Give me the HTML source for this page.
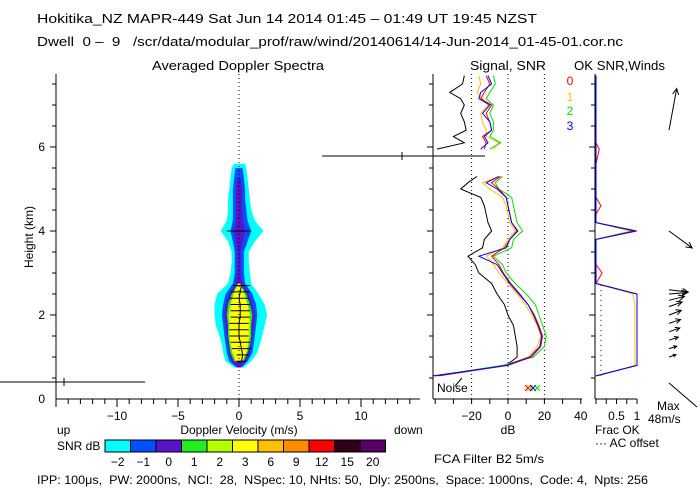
<!DOCTYPE html>
<html><head><meta charset="utf-8"><style>
body{margin:0;background:#fff;width:700px;height:500px;overflow:hidden}
svg{display:block;font-family:"Liberation Sans",sans-serif}
</style></head><body>
<svg id="c" width="700" height="500" viewBox="0 0 700 500">
<text x="37" y="23" font-size="13" textLength="500" lengthAdjust="spacingAndGlyphs">Hokitika_NZ  MAPR-449  Sat Jun 14 2014 01:45 – 01:49 UT 19:45 NZST</text>
<text x="37" y="46" font-size="12.5" xml:space="preserve" textLength="586" lengthAdjust="spacingAndGlyphs">Dwell  0 –  9   /scr/data/modular_prof/raw/wind/20140614/14-Jun-2014_01-45-01.cor.nc</text>
<text x="152" y="70" font-size="13" textLength="172" lengthAdjust="spacingAndGlyphs">Averaged Doppler Spectra</text>
<text x="470" y="70" font-size="13" textLength="76" lengthAdjust="spacingAndGlyphs">Signal, SNR</text>
<text x="574" y="70" font-size="13" textLength="91" lengthAdjust="spacingAndGlyphs">OK SNR,Winds</text>
<text x="33" y="237" font-size="12" text-anchor="middle" transform="rotate(-90 33 237)">Height (km)</text>
<text x="239" y="434" font-size="12" text-anchor="middle">Doppler Velocity (m/s)</text>
<text x="57" y="434" font-size="12">up</text>
<text x="394" y="434" font-size="12">down</text>
<text x="508" y="434" font-size="12" text-anchor="middle">dB</text>
<text x="595" y="434" font-size="12">Frac OK</text>
<text x="595" y="447" font-size="12">··· AC offset</text>
<text x="657" y="410" font-size="12">Max</text>
<text x="648" y="423" font-size="12">48m/s</text>
<text x="57" y="450" font-size="12">SNR dB</text>
<text x="434" y="463" font-size="12" textLength="110" lengthAdjust="spacingAndGlyphs">FCA Filter B2  5m/s</text>
<text x="37" y="484" font-size="11.5" xml:space="preserve" textLength="611" lengthAdjust="spacingAndGlyphs">IPP: 100μs,  PW: 2000ns,  NCI:  28,  NSpec: 10, NHts: 50,  Dly: 2500ns,  Space: 1000ns,  Code: 4,  Npts: 256</text>
<text x="437" y="392" font-size="12">Noise</text>
</svg>
<script>
// ---- data ----
const H = [0.55,0.8,1.0,1.25,1.5,1.75,2.0,2.25,2.5,2.75,3.0,3.2,3.4,3.6,3.8,4.0,4.2,4.4,4.6,4.8,5.0,5.15,5.3,5.6,5.95,6.1,6.25,6.4,6.6,6.8,7.0,7.15,7.3,7.5,7.7];
const sigBlack = [-42,-1,5,5,4,3,0,-2,-6,-9,-16,-18,-22,-14,-13,-9,-11,-12,-13,-15,-26,-22,-17,null,-39,-24,-30,-23,-24,-26,-24,-26,-32,-25,-24];
const snrRed = [-38,0,13,18,19,17,14.5,11,6.5,1.5,-2.5,-5,-9,-2,1,5.5,2,1,0,-1,-5,-9,-4,null,-13,-12,-14,-9,-10,-12,-9,-15,-13,-10,-12];
const snrOrange = [-39,-2,11,16,18,16,13,9.5,5,0,-5,-8,-12,-3,0,4,1,0,-1,-3,-10,-14,-5,null,-8,-5,-12,-12,-14,-15,-11,-14,-17,-15,-16];
const snrGreen = [-40,-3,14,20,21,19,17,15,10,4,-1,-3,-8,2,3,8,5,4,3,2,-5,-7,-3,null,-10,-4,-10,-8,-8,-10,-8,-12,-10,-7,-8];
const snrBlue = [-40,-1,12,17.5,18.5,16.5,14,11,6,1,-3,-6,-16,-1,1,5,2,1,0,-1,-6,-12,-5,null,-15,-11,-13,-9,-10,-14,-10,-16,-15,-9,-11];
const okRed = [0,1,1,1,1,1,1,1,1,0,0.15,0,0,0,0,1,0,0,0.12,0,0,0,0,0,0.08,0,0,0,0,0,0,0,0,0,0];
const okOrange = [0.05,0.95,0.95,0.95,0.95,0.95,0.95,0.95,0.9,0,0,0,0,0,0,0.85,0,0,0,0,0,0,0,0,0,0,0,0,0,0,0,0,0,0,0];
const okGreen = [0,1,1,1,1,1,1,1,1,0,0,0,0,0,0,0.9,0,0,0,0,0,0,0,0,0,0,0,0,0,0,0,0,0,0,0];
const okBlue = [0,1,1,1,1,1,1,1,1,0,0,0,0,0,0,0.95,0,0,0,0,0,0,0,0,0,0,0,0,0,0,0,0,0,0,0];
const windH = [1.0,1.2,1.4,1.6,1.8,2.0,2.2,2.35,2.5,2.6,4.0,6.4];
const windU = [9,10,12,14,15,16,17,20,24,25,30,10];
const windV = [3,3,4,5,5,6,6,5,2,-3,-22,54];
const specH = [0.75,0.9,1.1,1.3,1.5,1.75,2.0,2.25,2.5,2.75,3.0,3.25,3.5,3.75,4.0,4.25,4.5,4.75,5.0,5.25,5.5,5.6];
const cyanL = [-0.4,-1.1,-1.3,-1.4,-1.6,-1.9,-2.0,-2.0,-1.8,-0.9,-0.7,-0.6,-0.6,-0.9,-1.5,-1.0,-0.9,-0.9,-0.8,-0.7,-0.6,-0.4];
const cyanR = [0.4,1.0,1.5,1.7,1.9,2.1,2.3,2.1,1.6,1.0,0.9,0.8,0.8,1.3,2.0,1.3,1.0,0.9,0.8,0.7,0.6,0.5];
const blueL = [-0.2,-0.8,-1.0,-1.1,-1.2,-1.3,-1.4,-1.3,-1.1,-0.5,-0.35,-0.35,-0.35,-0.5,-0.7,-0.5,-0.5,-0.5,-0.5,-0.4,-0.3,null];
const blueR = [0.2,0.7,1.1,1.2,1.3,1.4,1.5,1.4,1.1,0.5,0.4,0.4,0.4,0.7,1.0,0.7,0.6,0.5,0.5,0.4,0.3,null];
const purpL = [-0.1,-0.6,-0.8,-0.9,-1.0,-1.1,-1.2,-1.1,-0.8,-0.3,-0.15,-0.15,-0.15,-0.25,-0.4,-0.25,-0.25,-0.25,-0.25,-0.15,null,null];
const purpR = [0.1,0.6,0.9,1.0,1.1,1.2,1.3,1.1,0.8,0.3,0.15,0.15,0.15,0.3,0.5,0.3,0.25,0.25,0.25,0.15,null,null];
const greenL = [null,-0.4,-0.7,-0.8,-0.9,-0.9,-1.0,-0.9,-0.6,-0.1,null,null,null,null,null,null,null,null,null,null,null,null];
const greenR = [null,0.4,0.7,0.9,1.0,1.0,1.1,0.9,0.6,0.1,null,null,null,null,null,null,null,null,null,null,null,null];
const yellowL = [null,-0.25,-0.55,-0.7,-0.8,-0.8,-0.85,-0.7,-0.45,-0.05,null,null,null,null,null,null,null,null,null,null,null,null];
const yellowR = [null,0.25,0.6,0.75,0.85,0.85,0.9,0.7,0.45,0.05,null,null,null,null,null,null,null,null,null,null,null,null];
const peakH = [0.9,1.05,1.2,1.35,1.5,1.65,1.8,1.95,2.1,2.25,2.4,2.55,2.7,4.0];
const peakV = [0.2,0.3,0.2,0.1,0.0,0.0,0.0,0.1,0.1,0.1,0.0,0.1,0.2,0.0];
const peakW = [0.4,0.5,0.8,0.8,0.8,0.8,0.8,0.8,0.8,0.8,0.8,0.8,0.7,1.0];
const cbLabels = ["-2","-1","0","1","2","3","6","9","12","15","20"];
const cbColors = ["#00ffff","#0050ff","#5a14c8","#20f020","#b4ff00","#ffff00","#ffc000","#ff8c00","#ff0000","#300018","#580068"];
// ---- scales ----
const yH = h => 399 - h*42;
const xV = v => 239 + v*12.2;
const xD = d => Math.max(433, 508 + d*1.82);
const xF = f => 596 + f*41;
const svg = document.getElementById('c');
const NS = 'http://www.w3.org/2000/svg';
function mk(tag, a){const e=document.createElementNS(NS,tag);for(const k in a)e.setAttribute(k,a[k]);svg.appendChild(e);return e;}
function line(x1,y1,x2,y2,st,dash){return mk('line',{x1,y1,x2,y2,stroke:st||'#000','stroke-width':1,'stroke-dasharray':dash||'none'});}
function txt(x,y,s,anchor,fill){const t=mk('text',{x,y,'font-size':12,'text-anchor':anchor||'middle',fill:fill||'#000'});t.textContent=s;return t;}

function band(L,R,col,name){
  let seg=[];
  const flush=()=>{if(seg.length){const pts=seg.map(i=>xV(L[i])+','+yH(specH[i])).concat(seg.slice().reverse().map(i=>xV(R[i])+','+yH(specH[i])));
    const p=mk('polygon',{points:pts.join(' '),fill:col});
    
    }seg=[];};
  for(let i=0;i<specH.length;i++){if(L[i]===null)flush();else seg.push(i);}flush();
}
band(cyanL,cyanR,'#00ffff','contour-snr-m2');
band(blueL,blueR,'#0050ff','contour-snr-m1');
band(purpL,purpR,'#5a14c8','contour-snr-0');
band(greenL,greenR,'#20f020','contour-snr-1');
band(yellowL,yellowR,'#ffff00','contour-snr-3');

let e=line(239,74,239,399,'#000','1,3');


for(let i=0;i<peakH.length;i++){
  e=line(xV(peakV[i]-peakW[i]),yH(peakH[i]),xV(peakV[i]+peakW[i]),yH(peakH[i]));
  
  
}
e=mk('polyline',{points:peakH.slice(0,13).map((h,i)=>xV(peakV[i])+','+yH(h)).join(' '),fill:'none',stroke:'#000'});


e=line(0,382,145,382);


line(64,378,64,386);
e=line(322,156,485,156);


line(402,152,402,160);

function yAxis(x,name){
  const a=line(x,74,x,399);
  
  
  for(let h=0.5;h<=7.5;h+=0.5)line(x-(h%2===0?6:4),yH(h),x,yH(h));
}
yAxis(56,'spectra-y-axis');yAxis(433,'signal-y-axis');yAxis(595,'ok-y-axis');
[0,2,4,6].forEach(h=>{const t=txt(45,yH(h)+4,String(h),'end');});
e=line(56,399,420,399);


for(let v=-15;v<=14;v++)line(xV(v),399,xV(v),v%5===0?407:404);
[-10,-5,0,5,10].forEach(v=>{const t=txt(xV(v),420,v===0?'0':(v<0?'−'+(-v):String(v)));});
e=line(433,399,582,399);


for(let d=-40;d<=40;d+=10)line(508+d*1.82,399,508+d*1.82,404);
[-20,0,20,40].forEach(d=>{const t=txt(508+d*1.82,420,d<0?'−'+(-d):String(d));});
[-20,0,20].forEach(d=>{const l=line(508+d*1.82,74,508+d*1.82,399,'#000','1,3');});
e=line(595,399,637,399);


for(let f=0;f<=1.001;f+=0.25)line(xF(f),399,xF(f),404);
[[0.5,'0.5'],[1,'1']].forEach(([f,s])=>{const t=txt(xF(f),420,s);});
e=line(601,yH(0.55),601,yH(2.75),'#000','1,4');



function series(vals,xs,col,name){
  let seg=[];const out=[];
  const flush=()=>{if(seg.length>1)out.push(seg.join(' '));seg=[];};
  for(let i=0;i<H.length;i++){if(vals[i]===null)flush();else seg.push(xs(vals[i])+','+yH(H[i]));}flush();
  out.forEach(p=>{const l=mk('polyline',{points:p,fill:'none',stroke:col,'stroke-width':1});
    
    });
}
series(sigBlack,xD,'#000','signal-noise-line');
series(snrOrange,xD,'#ffc000','snr-line-1');
series(snrGreen,xD,'#00e000','snr-line-2');
series(snrRed,xD,'#ff0000','snr-line-0');
series(snrBlue,xD,'#0000ff','snr-line-3');
series(okOrange,xF,'#ffc000','ok-line-1');
series(okGreen,xF,'#00e000','ok-line-2');
series(okRed,xF,'#ff0000','ok-line-0');
series(okBlue,xF,'#0000ff','ok-line-3');
e=line(455,386,462,378);


[['#ff0000',528],['#ffc000',530],['#0000ff',533],['#00e000',537]].forEach(([c,x])=>{
  const g=txt(x,393,'×','middle',c);g.setAttribute('font-size','15');
  
  
});
[['0','#ff0000',85],['1','#ffc000',101],['2','#00e000',115],['3','#0000ff',130]].forEach(([s,c,y])=>{
  const t=txt(570,y,s,'middle',c);
  
  
});

const ws=37/48;
function arrow(x0,y0,dx,dy,name){
  const l=mk('line',{x1:x0,y1:y0,x2:x0+dx,y2:y0+dy,stroke:'#000'});
  
  
  const len=Math.hypot(dx,dy),ux=dx/len,uy=dy/len,hs=Math.min(6,len*0.4);
  const x2=x0+dx,y2=y0+dy;
  mk('polyline',{points:`${x2-hs*ux-hs*0.5*uy},${y2-hs*uy+hs*0.5*ux} ${x2},${y2} ${x2-hs*ux+hs*0.5*uy},${y2-hs*uy-hs*0.5*ux}`,fill:'none',stroke:'#000'});
}
for(let i=0;i<windH.length;i++)arrow(669,yH(windH[i]),windU[i]*ws,-windV[i]*ws,'wind-arrow');
e=line(669,383,697,407);



for(let i=0;i<cbColors.length;i++){
  const r=mk('rect',{x:105+i*25.5,y:440,width:25.5,height:12,fill:cbColors[i],stroke:'#000','stroke-width':1});
  
  
  const t=txt(105+i*25.5+12.7,466,cbLabels[i].replace('-','−'));
  
  
}
</script>
</body></html>
